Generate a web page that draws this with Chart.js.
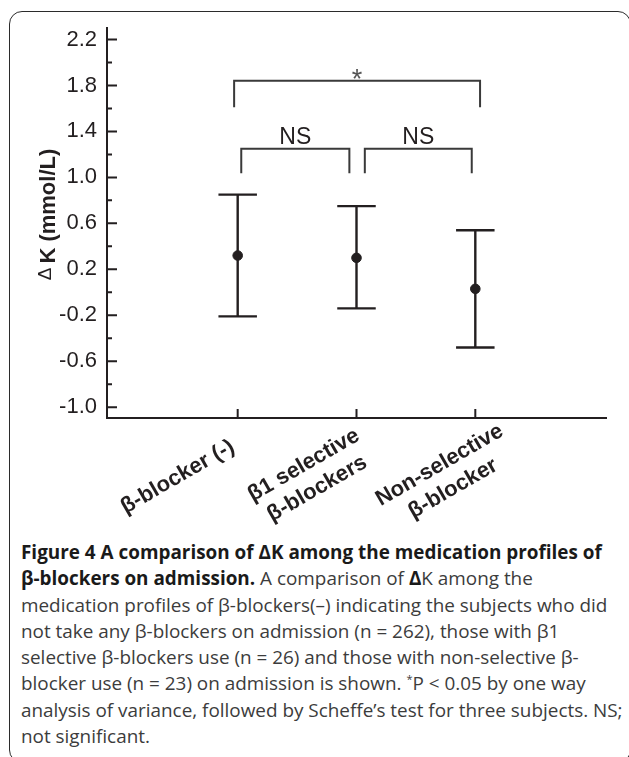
<!DOCTYPE html>
<html>
<head>
<meta charset="utf-8">
<script src="https://cdn.jsdelivr.net/npm/chart.js@4.4.1/dist/chart.umd.min.js"></script>
<style>
  html, body { margin: 0; padding: 0; background: #fff; }
  body { width: 629px; height: 757px; position: relative; overflow: hidden; }
  #frame { position: absolute; left: 9px; top: 11px; width: 622px; height: 752px; border: 1.5px solid #2b2b2b; border-radius: 13px; box-sizing: border-box; }
  #chartBox { position: absolute; left: 0; top: 0; width: 629px; height: 530px; }
  #caption { position: absolute; left: 21px; top: 539px; font-family: 'Open Sans', sans-serif; font-size: 18.9px; line-height: 26.3px; color: #3c3c3c; white-space: nowrap; }
  #caption b { color: #1a1a1a; }
  #caption .star { position: relative; top: -7px; font-size: 11px; line-height: 0; }
</style>
</head>
<body>
<div id="frame"></div>
<div id="chartBox"><canvas id="deltaKChart"></canvas></div>
<div id="caption">
<b>Figure 4 A comparison of ΔK among the medication profiles of</b><br>
<b>β-blockers on admission.</b> A comparison of <b>Δ</b>K among the<br>
medication profiles of β-blockers(–) indicating the subjects who did<br>
not take any β-blockers on admission (n = 262), those with β1<br>
selective β-blockers use (n = 26) and those with non-selective β-<br>
blocker use (n = 23) on admission is shown. <span class="star">*</span>P &lt; 0.05 by one way<br>
analysis of variance, followed by Scheffe’s test for three subjects. NS;<br>
not significant.
</div>
<script>
// groups and values
const categories = [['β-blocker (-)'], ['β1 selective', 'β-blockers'], ['Non-selective', 'β-blocker']];
const categoryPos = [1, 2, 3];
const means = [0.32, 0.30, 0.03];
const upper = [0.85, 0.75, 0.54];
const lower = [-0.21, -0.14, -0.48];

// y axis ticks
const yTicks = [-1.0, -0.6, -0.2, 0.2, 0.6, 1.0, 1.4, 1.8, 2.2];
const yMinorTicks = [-0.8, -0.4, 0.0, 0.4, 0.8, 1.2, 1.6, 2.0];

// significance brackets
const bracketFrom = [0.97, 1.03, 2.07];
const bracketTo = [3.04, 1.94, 2.97];
const bracketTop = [1.84, 1.25, 1.25];
const bracketFoot = [1.61, 1.035, 1.035];
const bracketText = ['*', 'NS', 'NS'];

const ink = '#231f20';
const sans = '"Liberation Sans", Arial, sans-serif';

// the rotated category labels sit a bit differently under each tick
const labelShiftX = [-60, -46, -29];
const labelDropY = 59;

const figurePlugin = {
    id: 'figureExtras',
    beforeDatasetsDraw(chart) {
        const ctx = chart.ctx;
        const xs = chart.scales.x, ys = chart.scales.y;
        const capHalf = 0.162;
        ctx.save();
        ctx.strokeStyle = ink;
        ctx.lineWidth = 2.4;
        categoryPos.forEach((p, i) => {
            const x = xs.getPixelForValue(p);
            ctx.beginPath();
            ctx.moveTo(x, ys.getPixelForValue(upper[i]));
            ctx.lineTo(x, ys.getPixelForValue(lower[i]));
            [upper[i], lower[i]].forEach(v => {
                const y = ys.getPixelForValue(v);
                ctx.moveTo(xs.getPixelForValue(p - capHalf), y);
                ctx.lineTo(xs.getPixelForValue(p + capHalf), y);
            });
            ctx.stroke();
        });

        // brackets
        ctx.strokeStyle = '#3a3a3a';
        ctx.lineWidth = 2;
        ctx.textAlign = 'center';
        bracketFrom.forEach((f, i) => {
            const x0 = xs.getPixelForValue(f), x1 = xs.getPixelForValue(bracketTo[i]);
            const yt = ys.getPixelForValue(bracketTop[i]), yf = ys.getPixelForValue(bracketFoot[i]);
            ctx.beginPath();
            ctx.moveTo(x0, yf);
            ctx.lineTo(x0, yt);
            ctx.lineTo(x1, yt);
            ctx.lineTo(x1, yf);
            ctx.stroke();
            const xm = (x0 + x1) / 2;
            if (bracketText[i] === '*') {
                ctx.fillStyle = '#555';
                ctx.font = '27px ' + sans;
                ctx.fillText('*', xm, yt + 7);
            } else {
                ctx.fillStyle = ink;
                ctx.font = '23px ' + sans;
                ctx.fillText(bracketText[i], xm, yt - 4.5);
            }
        });
        ctx.restore();
    },
    afterDraw(chart) {
        const ctx = chart.ctx;
        const xs = chart.scales.x, ys = chart.scales.y;
        const area = chart.chartArea;
        ctx.save();
        ctx.strokeStyle = ink;
        ctx.lineWidth = 2;
        ctx.beginPath();
        // inward tick marks
        yTicks.forEach(v => {
            const y = ys.getPixelForValue(v);
            ctx.moveTo(area.left, y);
            ctx.lineTo(area.left + 10, y);
        });
        yMinorTicks.forEach(v => {
            const y = ys.getPixelForValue(v);
            ctx.moveTo(area.left, y);
            ctx.lineTo(area.left + 5, y);
        });
        categoryPos.forEach(p => {
            const x = xs.getPixelForValue(p);
            ctx.moveTo(x, area.bottom);
            ctx.lineTo(x, area.bottom - 9);
        });
        ctx.stroke();
        ctx.restore();

        // rotated category labels, lines centred on each other
        ctx.save();
        ctx.fillStyle = ink;
        ctx.font = 'bold 22px ' + sans;
        ctx.textAlign = 'center';
        ctx.textBaseline = 'middle';
        categoryPos.forEach((p, i) => {
            const lines = categories[i];
            ctx.save();
            ctx.translate(xs.getPixelForValue(p) + labelShiftX[i], area.bottom + labelDropY);
            ctx.rotate(-Math.PI / 6);
            lines.forEach((t, j) => {
                ctx.fillText(t, 0, (j - (lines.length - 1) / 2) * 27);
            });
            ctx.restore();
        });
        ctx.restore();

        // y axis title: small delta + bold text
        ctx.save();
        ctx.translate(47, 214.5);
        ctx.rotate(-Math.PI / 2);
        ctx.fillStyle = ink;
        ctx.textAlign = 'left';
        ctx.textBaseline = 'alphabetic';
        const deltaFont = '19px ' + sans;
        const mainFont = 'bold 22px ' + sans;
        ctx.font = deltaFont;
        const wD = ctx.measureText('Δ').width;
        ctx.font = mainFont;
        const wM = ctx.measureText('K (mmol/L)').width;
        const gap = 4;
        const start = -(wD + gap + wM) / 2;
        ctx.font = deltaFont;
        ctx.fillText('Δ', start, 4);
        ctx.font = mainFont;
        ctx.fillText('K (mmol/L)', start + wD + gap, 8);
        ctx.restore();
    }
};

const ctx = document.getElementById('deltaKChart').getContext('2d');
const deltaKChart = new Chart(ctx, {
    type: 'scatter',
    data: {
        datasets: [{
            label: 'mean',
            data: categoryPos.map((p, i) => ({ x: p, y: means[i] })),
            backgroundColor: ink,
            borderColor: ink,
            pointRadius: 4.8,
            pointHoverRadius: 4.8
        }]
    },
    options: {
        responsive: true,
        maintainAspectRatio: false,
        animation: false,
        layout: { padding: { top: 28, right: 23, left: 0, bottom: 0 } },
        plugins: { legend: { display: false }, tooltip: { enabled: false } },
        scales: {
            x: {
                type: 'linear',
                min: -0.1,
                max: 4.1,
                afterBuildTicks: s => { s.ticks = categoryPos.map(v => ({ value: v })); },
                afterFit: s => { s.height = 112; },
                grid: { drawOnChartArea: false, drawTicks: false },
                border: { display: true, color: ink, width: 2 },
                ticks: { display: false }
            },
            y: {
                min: -1.094,
                max: 2.3,
                afterBuildTicks: s => { s.ticks = yTicks.map(v => ({ value: v })); },
                afterFit: s => { s.width = 107; },
                grid: { drawOnChartArea: false, drawTicks: false },
                border: { display: true, color: ink, width: 2 },
                ticks: {
                    padding: 10,
                    color: ink,
                    font: { family: sans, size: 22 },
                    callback: v => v.toFixed(1)
                }
            }
        }
    },
    plugins: [figurePlugin]
});
</script>
</body>
</html>
